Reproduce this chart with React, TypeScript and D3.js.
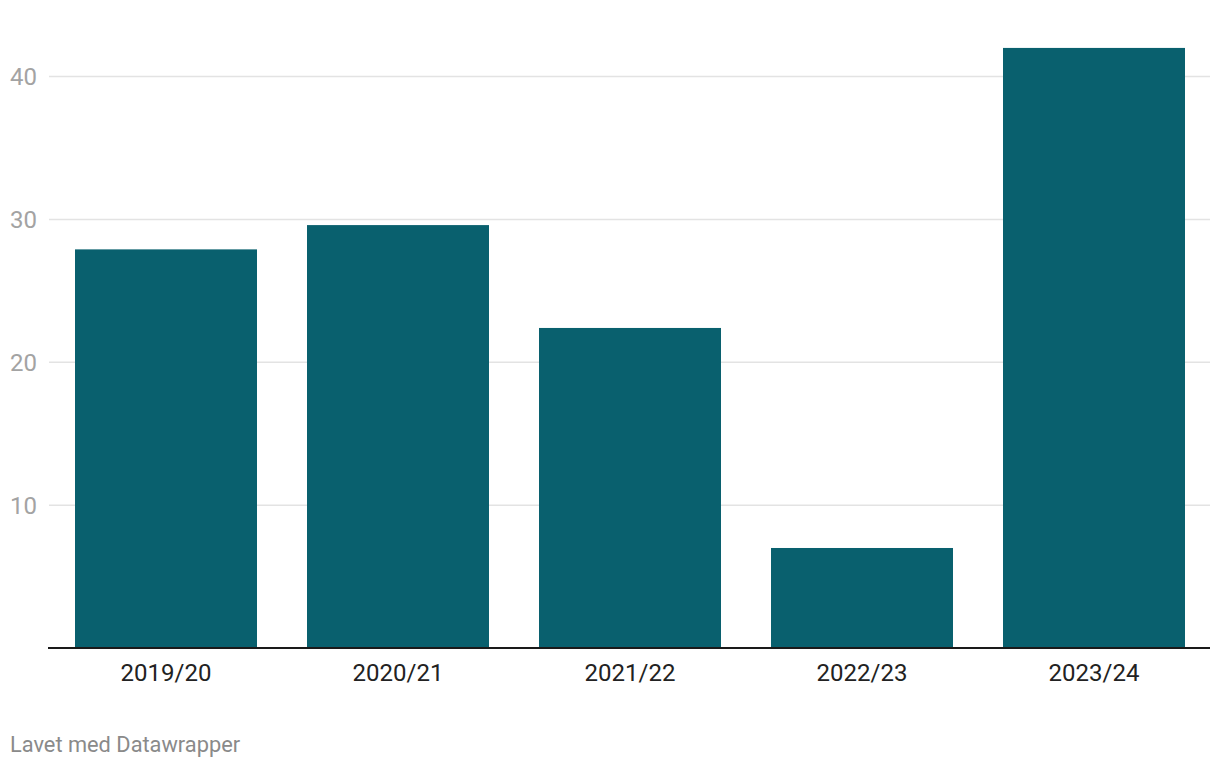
import React from "react";
import * as d3 from "d3";

const categories = ["2019/20", "2020/21", "2021/22", "2022/23", "2023/24"];
const values = [27.9, 29.6, 22.4, 7.0, 42.0];
const yTicks = [10, 20, 30, 40];
const footer = "Lavet med Datawrapper";

const W = 1220;
const H = 768;
const FONT = "Roboto, 'Noto Sans', sans-serif";

export default function App() {
  const x = d3
    .scaleBand<string>()
    .domain(categories)
    .range([75, 1185])
    .paddingInner(50 / 232)
    .paddingOuter(0);
  const y = d3.scaleLinear().domain([0, 40]).range([648, 76.5]);

  return (
    <svg
      width={W}
      height={H}
      style={{ position: "absolute", left: 0, top: 0, background: "#fff" }}
      fontFamily={FONT}
    >
      {yTicks.map((t) => (
        <g key={t}>
          <line x1={49} x2={1210} y1={y(t)} y2={y(t)} stroke="#e3e3e3" strokeWidth={1.5} />
          <text x={10} y={y(t)} dy="0.35em" fontSize={24} fill="#a3a3a3">
            {t}
          </text>
        </g>
      ))}
      {categories.map((c, i) => (
        <rect
          key={c}
          x={x(c)}
          y={y(values[i])}
          width={x.bandwidth()}
          height={y(0) - y(values[i])}
          fill="#09606e"
        />
      ))}
      <line x1={48} x2={1210} y1={y(0)} y2={y(0)} stroke="#1a1a1a" strokeWidth={2} />
      {categories.map((c) => (
        <text
          key={c}
          x={(x(c) as number) + x.bandwidth() / 2}
          y={681}
          textAnchor="middle"
          fontSize={24}
          fill="#222"
        >
          {c}
        </text>
      ))}
      <text x={10} y={752} fontSize={21.8} fill="#8a8a8a">
        {footer}
      </text>
    </svg>
  );
}
